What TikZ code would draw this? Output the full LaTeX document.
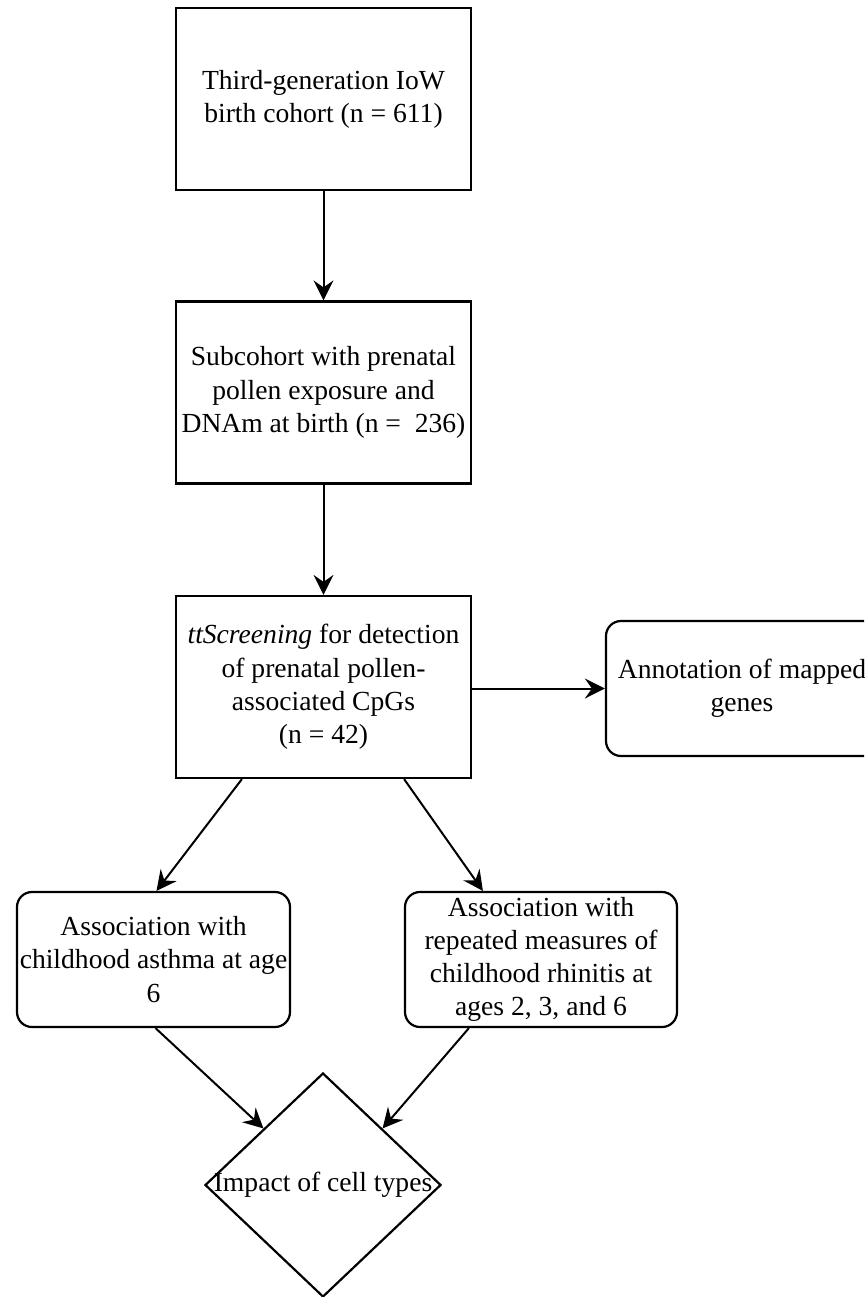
\documentclass[tikz,border=0pt]{standalone}
\usepackage{fontspec}
\setmainfont{Liberation Serif}
\usetikzlibrary{
  positioning,
  calc,
  arrows.meta,
  shapes.geometric
}

\begin{document}
\begin{tikzpicture}[x=0.5pt, y=-0.5pt,
    box/.style={draw, line width=1.1pt, align=center, inner sep=0pt,
      minimum width=147.5pt, minimum height=91pt,
      font=\fontsize{13.8}{16.6}\selectfont},
    roundbox/.style={box, rounded corners=7.5pt,
      minimum width=136pt, minimum height=67.5pt},
    arr/.style={-{Stealth[length=10pt, width=10pt, inset=3.5pt]}, line width=1pt}
  ]
  \clip (0,0) rectangle (864,1297);

  % Main column
  \node[box] (cohort) at (323.5,99) {Third-generation IoW\\birth cohort (n = 611)};
  \node[box] (subcohort) at (323.5,392.5) {Subcohort with prenatal\\pollen exposure and\\DNAm at birth (n = \ 236)};
  \node[box] (screen) at (323.5,687) {\textit{ttScreening} for detection\\of prenatal pollen-\\associated CpGs\\(n = 42)};

  % Side box
  \node[roundbox] (annot) at (742,688.5) {Annotation of mapped\\genes};

  % Outcomes
  \node[roundbox, minimum width=136.5pt] (asthma) at (153.5,959.5) {Association with\\childhood asthma at age\\6};
  \node[roundbox] (rhinitis) at (541,959.5) {Association with\\repeated measures of\\childhood rhinitis at\\ages 2, 3, and 6};

  % Cell types
  \node[diamond, draw, line width=1.1pt, inner sep=0pt, minimum width=118pt, minimum height=112pt,
    label={[font=\fontsize{13.8}{16.6}\selectfont]center:Impact of cell types}] (impact) at (323,1185) {};

  % Arrows
  \draw[arr] (cohort) -- (subcohort);
  \draw[arr] (subcohort) -- (screen);
  \draw[arr] (screen.east |- annot.west) -- (annot.west);
  \draw[arr] ([xshift=33.5pt]screen.south west) -- ([xshift=1.5pt]asthma.north);
  \draw[arr] ([xshift=-34pt]screen.south east) -- ([xshift=39.5pt]rhinitis.north west);
  \draw[arr] ([xshift=1pt]asthma.south) -- (impact.north west);
  \draw[arr] ([xshift=32.5pt]rhinitis.south west) -- (impact.north east);
\end{tikzpicture}
\end{document}
